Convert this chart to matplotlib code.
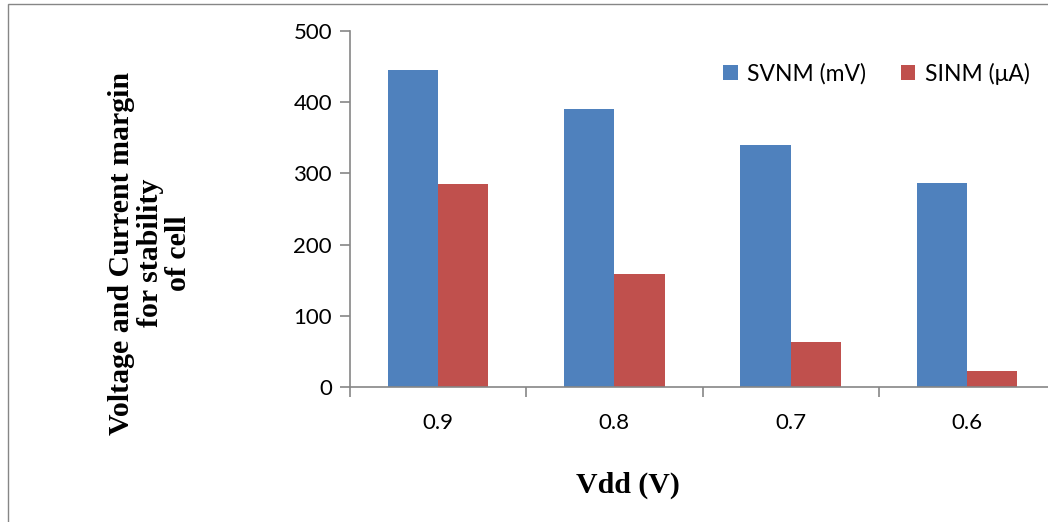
import matplotlib

matplotlib.use("Agg")

import matplotlib.pyplot as plt
from matplotlib.patches import Rectangle
import numpy as np

categories = ["0.9", "0.8", "0.7", "0.6"]
svnm = [445, 390, 340, 287]
sinm = [285, 159, 63, 23]
series_names = ["SVNM (mV)", "SINM (\u03bcA)"]

BLUE = "#4F81BD"
RED = "#C0504D"
GREY = "#868686"
TICK_FONT = "Lato"
SERIF = "Liberation Serif"

fig = plt.figure(figsize=(10.48, 5.22), dpi=100)

# outer chart border (right/bottom run off the canvas)
fig.patches.append(Rectangle((8 / 1048, -0.1), 1.2, 1 - 4 / 522 + 0.1,
                             transform=fig.transFigure, fill=False,
                             edgecolor=GREY, lw=1.0))

ax = fig.add_axes([350 / 1048, 1 - 387 / 522, 705 / 1048, 356 / 522])

x = np.arange(len(categories))
w = 1 / 3.5
ax.bar(x - w / 2, svnm, width=w, color=BLUE, label=series_names[0])
ax.bar(x + w / 2, sinm, width=w, color=RED, label=series_names[1])

ax.set_xlim(-0.5, len(categories) - 0.5)
ax.set_ylim(0, 500)
ax.set_yticks(np.arange(0, 501, 100))
ax.set_xticks(x)
ax.set_xticklabels(categories)
ax.set_xticks(np.arange(-0.5, len(categories), 1.0), minor=True)

for s in ["top", "right"]:
    ax.spines[s].set_visible(False)
for s in ["left", "bottom"]:
    ax.spines[s].set_color(GREY)
    ax.spines[s].set_linewidth(1.2)

ax.tick_params(axis="y", length=7, color=GREY, width=1.2, pad=6,
               labelsize=16)
ax.tick_params(axis="x", which="major", length=0, pad=19, labelsize=16)
ax.tick_params(axis="x", which="minor", length=7, color=GREY, width=1.2)
for lab in ax.get_xticklabels() + ax.get_yticklabels():
    lab.set_family(TICK_FONT)

fig.text(150 / 1048, 1 - 253 / 522,
         "Voltage and Current margin\nfor stability\nof cell",
         rotation=90, ha="center", va="center", family=SERIF,
         fontweight="bold", fontsize=21.5, linespacing=1.08)
fig.text(628 / 1048, 1 - 485 / 522, "Vdd (V)", ha="center", va="center",
         family=SERIF, fontweight="bold", fontsize=21.5)

ax.legend(loc="center left", bbox_to_anchor=(0.50, 0.88), ncol=2,
          frameon=False, prop={"family": TICK_FONT, "size": 16.5},
          handlelength=0.65, handleheight=0.65, handletextpad=0.4,
          columnspacing=1.5)

fig.savefig("out.png", dpi=100)
